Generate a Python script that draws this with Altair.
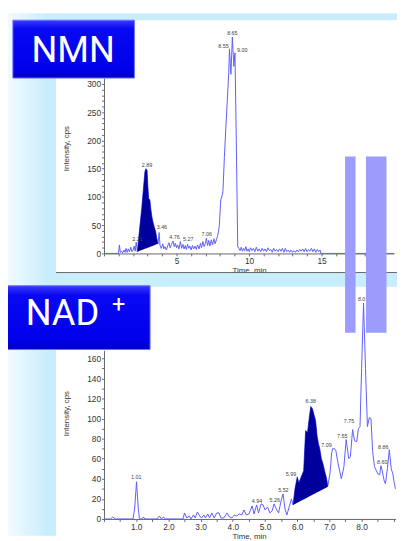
import altair as alt
import pandas as pd

# ---------------- NMN chromatogram (top) ----------------
nmn_time = [0.0, 1.0, 1.06, 1.12, 1.2, 1.28, 1.38, 1.45, 1.52, 1.6, 1.68, 1.75, 1.85, 1.92,
            2.0, 2.08, 2.15, 2.22, 2.3, 2.4, 2.5, 2.6, 2.7, 2.82, 2.89, 2.97, 3.02, 3.08,
            3.16, 3.22, 3.3, 3.38, 3.46, 3.55, 3.63, 3.72, 3.8, 3.86, 3.95, 4.05, 4.12, 4.2,
            4.3, 4.4, 4.48, 4.56, 4.65, 4.76, 4.84, 4.92, 5.0, 5.08, 5.16, 5.27, 5.35, 5.44,
            5.52, 5.6, 5.68, 5.76, 5.84, 5.92, 6.0, 6.1, 6.18, 6.28, 6.36, 6.45, 6.55, 6.65,
            6.72, 6.82, 6.9, 6.98, 7.06, 7.14, 7.22, 7.3, 7.4, 7.48, 7.58, 7.66, 7.75, 7.82,
            7.9, 7.95, 8.05, 8.12, 8.2, 8.3, 8.38, 8.5, 8.6, 8.65, 8.75, 8.85, 8.95, 9.03,
            9.12, 9.22, 9.3, 9.38, 9.46, 9.54, 9.62, 9.7, 9.78, 9.86, 9.94, 10.02, 10.1, 10.2,
            10.3, 10.4, 10.5, 10.6, 10.7, 10.8, 10.9, 11.0, 11.1, 11.2, 11.3, 11.4, 11.5, 11.6,
            11.7, 11.8, 11.9, 12.0, 12.1, 12.2, 12.3, 12.4, 12.5, 12.6, 12.7, 12.8, 12.9, 13.0,
            13.1, 13.2, 13.3, 13.4, 13.5, 13.6, 13.7, 13.8, 13.9, 14.0, 14.1, 14.2, 14.3, 14.4,
            14.5, 14.6, 14.7, 14.8, 14.9, 14.95, 20.0]
nmn_intensity = [0, 0, 15, 2, 4, 1, 6, 2, 9, 2, 8, 3, 11, 3,
                 6, 13, 4, 20, 3, 30, 55, 80, 110, 145, 150, 147, 120, 97,
                 95, 80, 65, 55, 47, 40, 28, 17, 37, 14, 9, 17, 8, 12,
                 6, 14, 19, 10, 16, 22, 12, 18, 10, 15, 8, 21, 9, 16,
                 8, 14, 7, 16, 9, 13, 6, 14, 8, 13, 7, 15, 8, 18,
                 10, 21, 12, 17, 27, 14, 23, 13, 24, 15, 26, 17, 24, 30,
                 40, 50, 95, 100, 110, 170, 213, 270, 320, 362, 317, 383, 331, 355,
                 200, 12, 9, 5, 11, 4, 9, 5, 12, 4, 8, 3, 10, 5,
                 9, 3, 11, 4, 8, 3, 9, 4, 8, 3, 10, 5, 7, 2,
                 9, 4, 7, 3, 8, 4, 9, 2, 9, 3, 6, 2, 6, 2,
                 5, 2, 6, 3, 7, 4, 8, 3, 9, 3, 7, 4, 9, 3,
                 8, 2, 7, 3, 6, 0, 0]
nmn_labels = ["2.21", "2.89", "3.46", "4.76", "5.27", "7.06", "8.55", "8.65", "9.00"]
nmn_label_time = [2.3, 2.97, 3.99, 4.86, 5.81, 7.09, 8.24, 8.85, 9.53]
nmn_label_int = [21, 151, 42, 23, 21, 29, 361, 385, 355]
nmn_fill_time = [2.3, 3.72]
nmn_fill_base = [3, 17]

# ---------------- NAD+ chromatogram (bottom) ----------------
nad_time = [0.0, 0.2, 0.27, 0.35, 0.9, 0.95, 1.01, 1.06, 1.1, 1.18, 1.22, 1.27, 1.65, 1.72,
            1.78, 1.85, 1.9, 2.45, 2.5, 2.57, 2.65, 2.7, 2.78, 2.83, 2.9, 2.97, 3.03, 3.1,
            3.15, 3.22, 3.28, 3.35, 3.42, 3.5, 3.57, 3.63, 3.72, 3.82, 3.9, 3.97, 4.05, 4.12,
            4.2, 4.28, 4.35, 4.42, 4.5, 4.6, 4.66, 4.74, 4.8, 4.88, 4.94, 5.0, 5.08, 5.15,
            5.22, 5.28, 5.35, 5.42, 5.5, 5.56, 5.62, 5.68, 5.75, 5.82, 5.87, 5.93, 6.0, 6.05,
            6.1, 6.2, 6.26, 6.32, 6.37, 6.42, 6.47, 6.52, 6.57, 6.62, 6.66, 6.7, 6.75, 6.8,
            6.85, 6.9, 6.95, 7.02, 7.07, 7.1, 7.16, 7.2, 7.27, 7.37, 7.45, 7.52, 7.6, 7.65,
            7.72, 7.78, 7.85, 7.9, 7.95, 8.0, 8.06, 8.12, 8.18, 8.24, 8.29, 8.34, 8.4, 8.46,
            8.5, 8.56, 8.6, 8.64, 8.7, 8.74, 8.8, 8.86, 8.92, 8.97, 9.0, 9.05]
nad_intensity = [0, 0, 2, 0, 0, 10, 37, 12, 0, 0, 2, 0, 0, 3,
                 0, 2, 0, 0, 6, 1, 3, 0, 4, 1, 7, 3, 1, 4,
                 1, 5, 1, 6, 1, 6, 6, 1, 1, 6, 2, 1, 4, 3,
                 5, 4, 9, 4, 5, 13, 5, 14, 6, 15, 14, 9, 12, 6,
                 8, 15, 10, 6, 18, 25, 10, 4, 12, 20, 14, 30, 42, 36,
                 40, 48, 88, 86, 100, 112, 110, 104, 98, 82, 75, 70, 60, 55,
                 48, 42, 33, 46, 66, 70, 70, 68, 55, 40, 52, 79, 60, 62,
                 89, 78, 77, 90, 92, 150, 215, 150, 92, 101, 100, 68, 52, 48,
                 45, 44, 53, 48, 38, 35, 50, 69, 50, 45, 38, 30]
nad_labels = ["1.01", "4.94", "5.26", "5.52", "5.99", "6.38", "7.09", "7.55", "7.75",
              "8.0", "8.60", "8.86"]
nad_label_time = [1.0, 4.75, 5.3, 5.57, 5.81, 6.42, 6.91, 7.4, 7.61, 8.0, 8.64, 8.67]
nad_label_int = [39, 14.6, 15.6, 26, 42, 114, 71, 80, 95, 216, 54, 69]
nad_fill_time = [5.87, 6.95]
nad_fill_base = [14, 32]

LINE = "#5c5cff"
FILL = "#00009c"
SKY = "#c9eefb"
FONT = "Liberation Sans"
W, H = 397, 533


def axis(**kw):
    base = dict(grid=False, domainColor="#666", domainWidth=1, tickColor="#666",
                tickSize=2.5, labelColor="#333", labelFont=FONT, labelFontSize=8.5,
                labelPadding=1, labelOverlap=False, labelFlush=False, labelBound=False,
                titleFont=FONT, titleFontSize=8, titleFontWeight="normal",
                titleColor="#333")
    base.update(kw)
    return alt.Axis(**base)


def one(): return alt.InlineData(values=[{"k": 0}])


def chromatogram(times, ints, labels, lt, li, ft, fb, xdom, xrng, ydom, yrng,
                 xaxis, yaxis):
    df = pd.DataFrame({"t": times, "I": ints})
    ldf = pd.DataFrame({"label": labels, "t": lt, "I": li})
    xs = alt.Scale(domain=xdom, range=xrng, nice=False, zero=False)
    ys = alt.Scale(domain=ydom, range=yrng, nice=False)
    X = alt.X("t:Q", scale=xs, axis=xaxis)
    Y = alt.Y("I:Q", scale=ys, axis=yaxis)
    line = alt.Chart(df).mark_line(color=LINE, strokeWidth=1, clip=False).encode(
        x=X, y=Y, order="t:Q")
    slope = (fb[1] - fb[0]) / (ft[1] - ft[0])
    area = alt.Chart(df).transform_filter(
        f"datum.t >= {ft[0]} && datum.t <= {ft[1]}"
    ).transform_calculate(
        base=f"{fb[0]} + (datum.t - {ft[0]}) * {slope}"
    ).mark_area(color=FILL, opacity=1, clip=False).encode(x=X, y=Y, y2="base:Q")
    text = alt.Chart(ldf).mark_text(fontSize=5.5, font=FONT, color="#444",
                                    baseline="bottom", align="center").encode(
        x=X, y=Y, text="label:N")
    return alt.layer(line, area, text)


top = chromatogram(
    nmn_time, nmn_intensity, nmn_labels, nmn_label_time, nmn_label_int,
    nmn_fill_time, nmn_fill_base, [0, 20], [98, 394], [0, 310], [245, 66.2],
    axis(orient="bottom", offset=245 - H, values=list(range(0, 20)),
         labelExpr="datum.value % 5 == 0 && datum.value > 0 ? datum.label : ''",
         title="Time, min", titleX=246, titleY=13.5, titleAlign="center",
         titleBaseline="top"),
    axis(orient="left", offset=-98, values=list(range(0, 301, 10)),
         labelExpr="datum.value % 50 == 0 ? datum.label : ''",
         title="Intensity, cps", titleX=-34, titleY=137.5, titleAngle=270,
         titleAlign="center", titleBaseline="bottom"))

bottom = chromatogram(
    nad_time, nad_intensity, nad_labels, nad_label_time, nad_label_int,
    nad_fill_time, nad_fill_base, [0, 9.05], [98, 395.4], [0, 168], [516, 343.8],
    axis(orient="bottom", offset=516 - H, values=[i * 0.5 for i in range(0, 19)],
         labelExpr="datum.value % 1 == 0 && datum.value > 0 && datum.value < 9 ? format(datum.value, '.1f') : ''",
         title="Time, min", titleX=246, titleY=13.5, titleAlign="center",
         titleBaseline="top"),
    axis(orient="left", offset=-98, values=list(range(0, 161, 10)),
         labelExpr="datum.value % 20 == 0 ? datum.label : ''",
         title="Intensity, cps", titleX=-34, titleY=408, titleAngle=270,
         titleAlign="center", titleBaseline="bottom"))


def rect(x, x2, y, y2, **style):
    return alt.Chart(one()).mark_rect(**style).encode(
        x=alt.value(x), x2=alt.value(x2), y=alt.value(y), y2=alt.value(y2))


def label(txt, x, y, **style):
    return alt.Chart(one()).mark_text(text=txt, **style).encode(
        x=alt.value(x), y=alt.value(y))


strip_grad = alt.Gradient(gradient="linear", x1=0, x2=1, y1=0, y2=0,
                          stops=[alt.GradientStop(color="#f2fbff", offset=0),
                                 alt.GradientStop(color=SKY, offset=0.8),
                                 alt.GradientStop(color=SKY, offset=1)])
box_grad = alt.Gradient(gradient="linear", x1=0, x2=0, y1=0, y2=1,
                        stops=[alt.GradientStop(color="#3a3aff", offset=0),
                               alt.GradientStop(color="#0808f2", offset=0.15),
                               alt.GradientStop(color="#0000ea", offset=0.85),
                               alt.GradientStop(color="#0000c4", offset=1)])

strip = rect(0, 49, 0, H, fill=strip_grad)
top_band = rect(49, W, 0, 7, fill=SKY)
gap_band = rect(49, W, 265, 279, fill=SKY)
gap_line = alt.Chart(one()).mark_rule(color="#666", strokeWidth=1).encode(
    x=alt.value(49), x2=alt.value(W), y=alt.value(264.5))
bar1 = rect(344, 354.7, 146, 326, fill="#9c9cfc")
bar2 = rect(365.3, 386.3, 146, 326, fill="#9c9cfc")
box1 = rect(5, 129, 7, 66, fill=box_grad, stroke="#6a6aff", strokeWidth=1)
box2 = rect(-1, 145, 278, 343, fill=box_grad, stroke="#6a6aff", strokeWidth=1)
t1 = label("NMN", 66.5, 50, font="Roboto", fontSize=37, color="white",
           align="center", baseline="alphabetic")
t2 = label("NAD", 18, 318, font="Roboto", fontSize=37, color="white",
           align="left", baseline="alphabetic")
t3 = label("+", 113, 297.5, font="Roboto", fontSize=24, color="white",
           align="center", baseline="middle")

chart = alt.layer(
    strip, top_band, gap_band, gap_line, top, bar1, bar2, bottom,
    box1, box2, t1, t2, t3
).resolve_scale(x="independent", y="independent").properties(
    width=W, height=H, padding=0, autosize=alt.AutoSizeParams(type="none"),
    background="white"
).configure_view(stroke=None).configure_axis(labelOverlap=False)

chart.save("out.html", embed_options={"renderer": "svg", "actions": False})
